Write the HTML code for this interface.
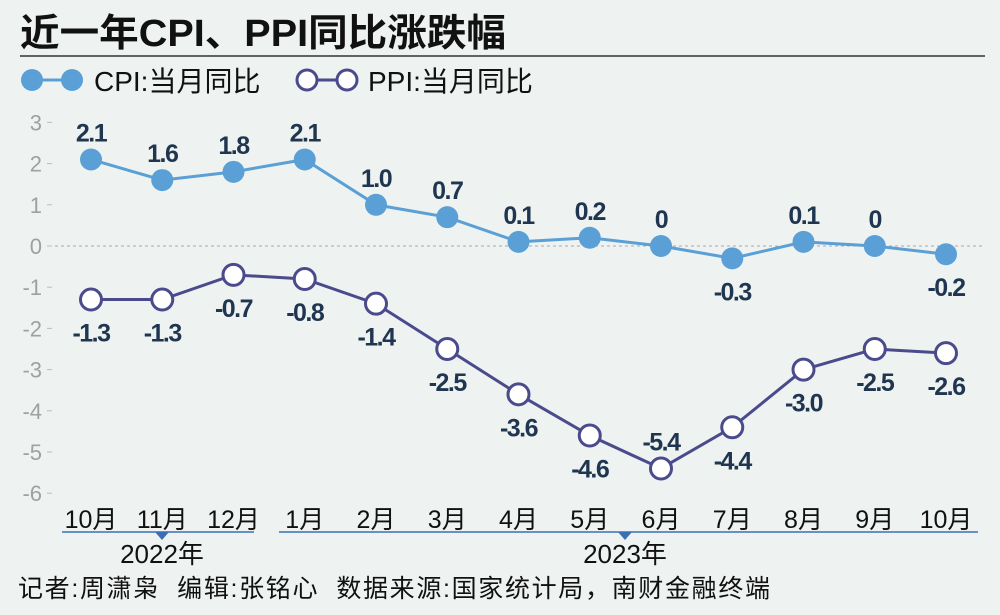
<!DOCTYPE html>
<html><head><meta charset="utf-8"><style>
body{margin:0;background:#eef3f1;}
svg{display:block;font-family:"Liberation Sans","Noto Sans CJK SC",sans-serif;}
</style></head><body>
<svg width="1000" height="615" viewBox="0 0 1000 615">
<rect width="1000" height="615" fill="#eef3f1"/>
<text x="20" y="46" font-size="38" font-weight="bold" fill="#111" textLength="486" lengthAdjust="spacingAndGlyphs">近一年CPI、PPI同比涨跌幅</text>
<line x1="20" y1="56" x2="985" y2="56" stroke="#333" stroke-width="1.5"/>
<g>
<line x1="32" y1="80" x2="72" y2="80" stroke="#5aa0d6" stroke-width="3"/>
<circle cx="32" cy="80" r="11" fill="#5aa0d6"/><circle cx="72" cy="80" r="11" fill="#5aa0d6"/>
<text x="94" y="91" font-size="28" fill="#111">CPI:当月同比</text></g>
<g>
<line x1="307" y1="80" x2="347" y2="80" stroke="#4a4a8c" stroke-width="3"/>
<circle cx="307" cy="80" r="10" fill="#fff" stroke="#4a4a8c" stroke-width="3"/><circle cx="347" cy="80" r="10" fill="#fff" stroke="#4a4a8c" stroke-width="3"/>
<text x="368" y="91" font-size="28" fill="#111">PPI:当月同比</text></g>
<g id="axes"></g><g id="series"></g>
<g>
<line x1="62" y1="532" x2="254" y2="532" stroke="#3a6fb5" stroke-width="1.5"/>
<polygon points="155,532 169,532 162,540" fill="#3a6fb5"/>
<line x1="279" y1="532" x2="978" y2="532" stroke="#3a6fb5" stroke-width="1.5"/>
<polygon points="618,532 632,532 625,540" fill="#3a6fb5"/>
<text x="162" y="563" font-size="26" fill="#111" text-anchor="middle">2022年</text>
<text x="625" y="563" font-size="26" fill="#111" text-anchor="middle">2023年</text>
</g>
<text x="18" y="597" font-size="25" fill="#111" textLength="752">记者:周潇枭 &#160;编辑:张铭心 &#160;数据来源:国家统计局，南财金融终端</text>
</svg>
<script>
const categories=["10月","11月","12月","1月","2月","3月","4月","5月","6月","7月","8月","9月","10月"];
const cpi=[2.1,1.6,1.8,2.1,1.0,0.7,0.1,0.2,0,-0.3,0.1,0,-0.2];
const cpiLabels=["2.1","1.6","1.8","2.1","1.0","0.7","0.1","0.2","0","-0.3","0.1","0","-0.2"];
const ppi=[-1.3,-1.3,-0.7,-0.8,-1.4,-2.5,-3.6,-4.6,-5.4,-4.4,-3.0,-2.5,-2.6];
const ppiLabels=["-1.3","-1.3","-0.7","-0.8","-1.4","-2.5","-3.6","-4.6","-5.4","-4.4","-3.0","-2.5","-2.6"];
const yTicks=[3,2,1,0,-1,-2,-3,-4,-5,-6];
const NS="http://www.w3.org/2000/svg";
function x(i){return 91+i*71.25;}
function y(v){return 246-v*41.2;}
function mk(t,a,p){const e=document.createElementNS(NS,t);for(const k in a)e.setAttribute(k,a[k]);p.appendChild(e);return e;}
const ax=document.getElementById('axes'),se=document.getElementById('series');
yTicks.forEach(v=>{
 const t=mk('text',{x:42,y:y(v)+8,'font-size':22,fill:'#a0a0a0','text-anchor':'end'},ax);t.textContent=v;
 
 
 const l=mk('line',{x1:47,x2:52,y1:y(v),y2:y(v),stroke:'#bbb'},ax);
 
 
});
const z=mk('line',{x1:55,x2:985,y1:y(0),y2:y(0),stroke:'#aaa','stroke-dasharray':'3,3'},ax);


categories.forEach((c,i)=>{
 const t=mk('text',{x:x(i),y:528,'font-size':25,fill:'#111','text-anchor':'middle'},ax);t.textContent=c;
 
 
});
function draw(vals,labs,color,fill,r,below,name){
 const p=mk('polyline',{points:vals.map((v,i)=>x(i)+','+y(v)).join(' '),fill:'none',stroke:color,'stroke-width':3},se);
 
 
 vals.forEach((v,i)=>{
  const c=mk('circle',{cx:x(i),cy:y(v),r:r,fill:fill,stroke:color,'stroke-width':fill==='#fff'?3:0},se);
  
  
  const b=below(i);
  const t=mk('text',{x:x(i),y:b?y(v)+42:y(v)-18,'font-size':25,'font-weight':'bold',fill:'#1f3550','text-anchor':'middle',style:'letter-spacing:-1.5px'},se);
  t.textContent=labs[i];
  
  
 });
}
draw(cpi,cpiLabels,'#5aa0d6','#5aa0d6',11,i=>i===9||i===12,'cpi');
draw(ppi,ppiLabels,'#4a4a8c','#fff',10.5,i=>i!==8,'ppi');
</script>
</body></html>
